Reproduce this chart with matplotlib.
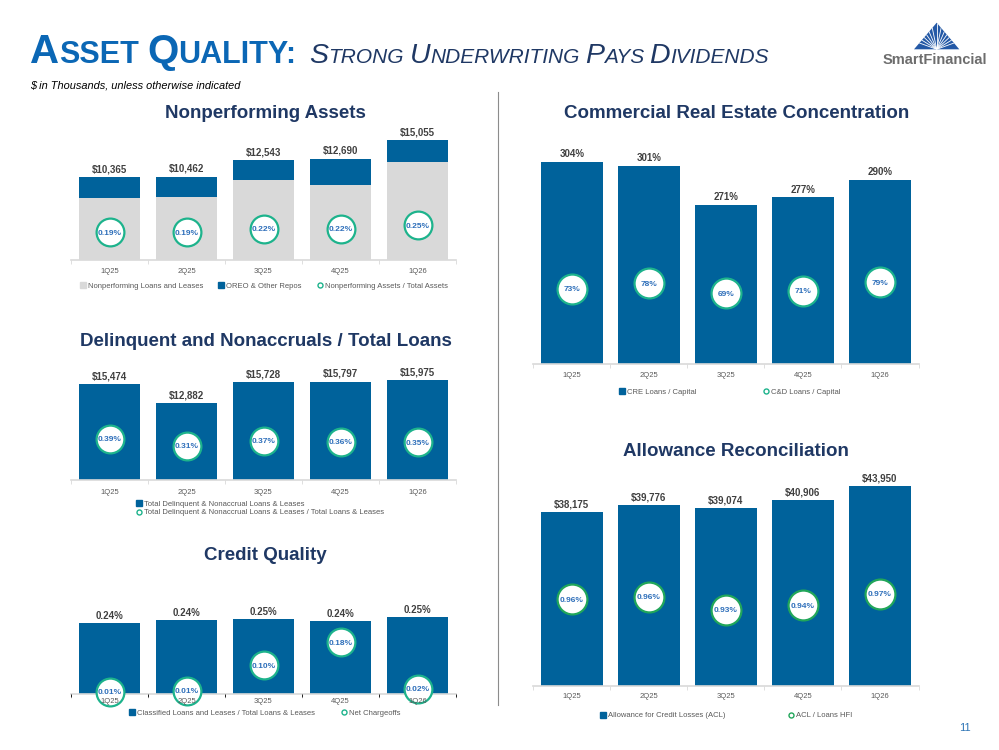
import matplotlib
matplotlib.use('Agg')
import numpy as np
import matplotlib.pyplot as plt
from matplotlib.lines import Line2D
from matplotlib.patches import Polygon

plt.rcParams['font.family'] = ['Liberation Sans', 'DejaVu Sans']

W, H = 999, 750

quarters = ['1Q25', '2Q25', '3Q25', '4Q25', '1Q26']

# Nonperforming assets ($K)
npl_loans = [7806, 7894, 10062, 9398, 12242]
npl_oreo = [2559, 2568, 2481, 3292, 2813]
npa_ratio = [0.19, 0.19, 0.22, 0.22, 0.25]

# Delinquent & nonaccrual ($K)
delinq_loans = [15474, 12882, 15728, 15797, 15975]
delinq_ratio = [0.39, 0.31, 0.37, 0.36, 0.35]

# Credit quality (%)
classified_ratio = [0.238, 0.244, 0.246, 0.242, 0.250]
net_chargeoffs = [0.006, 0.010, 0.10, 0.18, 0.016]

# CRE concentration (%)
cre_capital = [304, 301, 271, 277, 290]
cd_capital = [73, 78, 69, 71, 79]

# Allowance ($K)
acl = [38175, 39776, 39074, 40906, 43950]
acl_ratio = [0.957, 0.963, 0.93, 0.942, 0.97]

BLUE = '#00629b'
GRAY_BAR = '#d9d9d9'
RING = '#1db38c'
RING_GREEN = '#21a65a'
RING_TXT = '#2e6fba'
LABEL = '#404040'
TICK = '#595959'
NAVY = '#1f3864'

fig = plt.figure(figsize=(W / 100, H / 100), dpi=100)

# page layer in pixel coordinates
page = fig.add_axes([0, 0, 1, 1])
page.set_xlim(0, W)
page.set_ylim(H, 0)
page.axis('off')


def panel_axes(x0, x1, ybase, ytop):
    return fig.add_axes([x0 / W, 1 - ybase / H, (x1 - x0) / W, (ybase - ytop) / H])


def style_x(ax, tick_pad):
    ax.set_xlim(-0.5, 4.5)
    ax.set_xticks(range(5))
    ax.set_xticklabels(quarters)
    ax.tick_params(axis='x', length=0, pad=tick_pad, labelsize=5.5, labelcolor=TICK)


def style_axes(ax, ybase, ytop, vbase, per_px, tick_pad):
    ax.set_ylim(vbase, vbase + per_px * (ybase - ytop))
    for s in ['top', 'right', 'left']:
        ax.spines[s].set_visible(False)
    ax.spines['bottom'].set_color('#d9d9d9')
    ax.spines['bottom'].set_linewidth(1.2)
    ax.set_yticks([])
    style_x(ax, tick_pad)
    ax.set_xticks([i - 0.5 for i in range(6)], minor=True)
    ax.tick_params(axis='x', which='minor', length=3, color='#d9d9d9')
    ax.patch.set_visible(False)


def rings(ax, ybase, ytop, vbase, per_px, values, fmt, size, color=RING,
          labels_over=False, tick_pad=3):
    ax2 = ax.twinx()
    ax2.set_ylim(vbase, vbase + per_px * (ybase - ytop))
    for s in ax2.spines.values():
        s.set_visible(False)
    ax2.yaxis.set_visible(False)
    if labels_over:
        # quarter labels drawn above the rings, as in the reference
        ax.tick_params(axis='x', labelbottom=False)
        ax2.xaxis.set_visible(True)
        style_x(ax2, tick_pad)
        ax2.set_axisbelow(False)
    ax2.plot(range(5), values, ls='none', marker='o', ms=size, mfc='white',
             mec=color, mew=1.6, clip_on=False, zorder=2)
    for i, v in enumerate(values):
        ax2.text(i, v, fmt.format(v), ha='center', va='center_baseline', fontsize=6,
                 fontweight='bold', color=RING_TXT, clip_on=False, zorder=3)
    return ax2


def legend(ax, handles, labels, xc, yc, ncol, colsp, loc='center'):
    ax.legend(handles, labels, loc=loc, bbox_to_anchor=(xc / W, 1 - yc / H),
              bbox_transform=fig.transFigure, ncol=ncol, frameon=False, fontsize=5.5,
              handlelength=0.7, handletextpad=0.3, columnspacing=colsp,
              labelspacing=0.15, labelcolor=TICK, borderpad=0, borderaxespad=0)


def sq(c):
    return Line2D([], [], ls='none', marker='s', ms=4, color=c)


def ring_h(c=RING):
    return Line2D([], [], ls='none', marker='o', ms=3.6, mfc='white', mec=c, mew=1)


def title(x, y, txt):
    page.text(x, y, txt, ha='center', va='center', fontsize=13.5,
              fontweight='bold', color=NAVY)


x = range(5)

# ---- Nonperforming Assets
ax = panel_axes(71, 456, 260, 135)
style_axes(ax, 260, 135, 0, 125.3, 5.5)
ax.bar(x, npl_loans, 0.8, color=GRAY_BAR)
top = ax.bar(x, npl_oreo, 0.8, bottom=npl_loans, color=BLUE)
ax.bar_label(top, labels=['${:,}'.format(a + b) for a, b in zip(npl_loans, npl_oreo)],
             padding=2, fontsize=7, fontweight='bold', color=LABEL)
rings(ax, 260, 135, -0.0497, 0.00857, npa_ratio, '{:.2f}%', 20)
legend(ax, [sq(GRAY_BAR), sq(BLUE), ring_h()],
       ['Nonperforming Loans and Leases', 'OREO & Other Repos',
        'Nonperforming Assets / Total Assets'], 264, 286, 3, 2.0)
title(265.5, 114, 'Nonperforming Assets')

# ---- Delinquent and Nonaccruals
ax = panel_axes(71, 456, 480, 360)
style_axes(ax, 480, 360, 2380, 136.4, 6.5)
b = ax.bar(x, delinq_loans, 0.8, color=BLUE)
ax.bar_label(b, labels=['${:,}'.format(v) for v in delinq_loans],
             padding=2, fontsize=7, fontweight='bold', color=LABEL)
rings(ax, 480, 360, -0.0789, 0.01143, delinq_ratio, '{:.2f}%', 20)
legend(ax, [sq(BLUE), ring_h()],
       ['Total Delinquent & Nonaccrual Loans & Leases',
        'Total Delinquent & Nonaccrual Loans & Leases / Total Loans & Leases'],
       136, 508.5, 1, 1.0, loc='center left')
title(266, 342, 'Delinquent and Nonaccruals / Total Loans')

# ---- Credit Quality
ax = panel_axes(71, 456, 694.3, 600)
style_axes(ax, 694.3, 600, 0.096, 0.002, 3)
b = ax.bar(x, classified_ratio, 0.8, color=BLUE)
ax.bar_label(b, labels=['{:.2f}%'.format(v) for v in classified_ratio],
             padding=2, fontsize=7, fontweight='bold', color=LABEL)
rings(ax, 694.3, 600, -0.0032, 0.003524, net_chargeoffs, '{:.2f}%', 20,
      labels_over=True, tick_pad=3)
legend(ax, [sq(BLUE), ring_h()],
       ['Classified Loans and Leases / Total Loans & Leases', 'Net Chargeoffs'],
       265, 713, 2, 3.5)
title(265.5, 556, 'Credit Quality')

# ---- CRE Concentration
ax = panel_axes(533.2, 918.5, 364.3, 150)
style_axes(ax, 364.3, 150, 150.6, 0.757, 5.5)
b = ax.bar(x, cre_capital, 0.8, color=BLUE)
ax.bar_label(b, labels=['{:.0f}%'.format(v) for v in cre_capital],
             padding=2, fontsize=7, fontweight='bold', color=LABEL)
rings(ax, 364.3, 150, 2.34, 0.935, cd_capital, '{:.0f}%', 21.5)
legend(ax, [sq(BLUE), ring_h()], ['CRE Loans / Capital', 'C&D Loans / Capital'],
       730, 392, 2, 8.7)
title(736.5, 114, 'Commercial Real Estate Concentration')

# ---- Allowance Reconciliation
ax = panel_axes(533.2, 918.5, 686, 470)
style_axes(ax, 686, 470, 0, 219.75, 5.0)
b = ax.bar(x, acl, 0.8, color=BLUE)
ax.bar_label(b, labels=['${:,}'.format(v) for v in acl],
             padding=2, fontsize=7, fontweight='bold', color=LABEL)
rings(ax, 686, 470, 0.74, 0.0025, acl_ratio, '{:.2f}%', 21.5, color=RING_GREEN)
legend(ax, [sq(BLUE), ring_h(RING_GREEN)],
       ['Allowance for Credit Losses (ACL)', 'ACL / Loans HFI'], 726.5, 715.7, 2, 8.2)
title(736, 452, 'Allowance Reconciliation')

# ---- page header
renderer = fig.canvas.get_renderer()


def chain(x0, y, parts, **kw):
    xx = x0
    for txt, size, gap in parts:
        t = page.text(xx, y, txt, fontsize=size, va='baseline', ha='left', **kw)
        xx += t.get_window_extent(renderer).width + gap
    return xx


xe = chain(30, 63, [('A', 29, 0), ('SSET', 22, 8), ('Q', 29, 0), ('UALITY:', 22, 0)],
           fontweight='bold', color='#0b67b5')
chain(xe + 13, 63, [('S', 20.5, 0), ('TRONG', 15, 5.5), ('U', 20.5, 0),
                    ('NDERWRITING', 15, 5.5), ('P', 20.5, 0), ('AYS', 15, 5.5),
                    ('D', 20.5, 0), ('IVIDENDS', 15, 0)],
      style='italic', color=NAVY)
page.text(30, 85, '$ in Thousands, unless otherwise indicated', fontsize=7.9,
          style='italic', va='center', color='black')

# divider
page.plot([498, 498], [92, 705], color='#8c8c8c', lw=0.8)

# logo
apex, bl, br = (936.7, 22.7), (914, 49.3), (959.3, 49.3)
tri = Polygon([apex, bl, br], closed=True, facecolor='#2459a6', edgecolor='none')
page.add_patch(tri)
for ang in np.linspace(20, 160, 13):
    a = np.radians(ang)
    ln, = page.plot([936.7, 936.7 + 60 * np.cos(a)], [49.3, 49.3 - 60 * np.sin(a)],
                    color='white', lw=0.6)
    ln.set_clip_path(tri)
page.text(935, 60, 'SmartFinancial', fontsize=10.5, fontweight='bold', color='#6d6d6d',
          ha='center', va='center')
page.text(965, 728, '11', fontsize=8, color='#2e75b6', ha='center', va='center')

fig.savefig('out.png', dpi=100)
